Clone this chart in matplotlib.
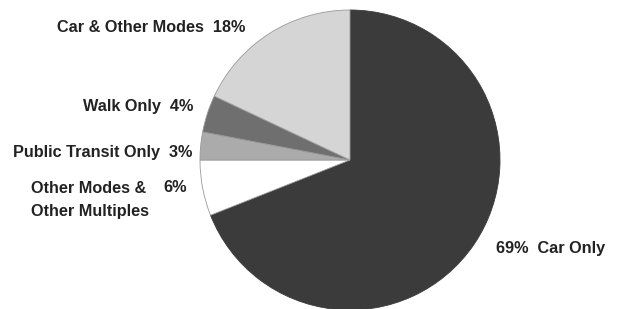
import matplotlib
matplotlib.use('Agg')
import matplotlib.pyplot as plt

# slices, clockwise from 12 o'clock
labels = ['Car Only', 'Other Modes &\nOther Multiples', 'Public Transit Only', 'Walk Only', 'Car & Other Modes']
shares = [69, 6, 3, 4, 18]
colors = ['#3b3b3b', '#ffffff', '#ababab', '#6f6f6f', '#d5d5d5']

W, H = 619, 309
fig = plt.figure(figsize=(W / 100, H / 100), dpi=100)
ax = fig.add_axes([0, 0, 1, 1])

wedges, _ = ax.pie(shares, colors=colors, startangle=90, counterclock=False,
                   center=(350, H - 160), radius=150, frame=True,
                   wedgeprops=dict(edgecolor='#9a9a9a', linewidth=0.6))
wedges[0].set_edgecolor('#3b3b3b')
ax.set_xlim(0, W)
ax.set_ylim(0, H)
ax.set_aspect('equal')
ax.axis('off')

font = dict(family='Liberation Sans', fontsize=11.7, weight='bold', color='#222222')

# label positions in pixels (left x, center y measured from top)
ax.text(57, H - 27, '%s  %d%%' % (labels[4], shares[4]), ha='left', va='center', **font)
ax.text(83, H - 106, '%s  %d%%' % (labels[3], shares[3]), ha='left', va='center', **font)
ax.text(13, H - 153, '%s  %d%%' % (labels[2], shares[2]), ha='left', va='center', **font)
ax.text(31, H - 200, labels[1], ha='left', va='center', linespacing=1.6, **font)
ax.text(163, H - 187, '%d%%' % shares[1], ha='left', va='center', **font)
ax.text(496, H - 248, '%d%%  %s' % (shares[0], labels[0]), ha='left', va='center', **font)

fig.savefig('out.png', dpi=100)
